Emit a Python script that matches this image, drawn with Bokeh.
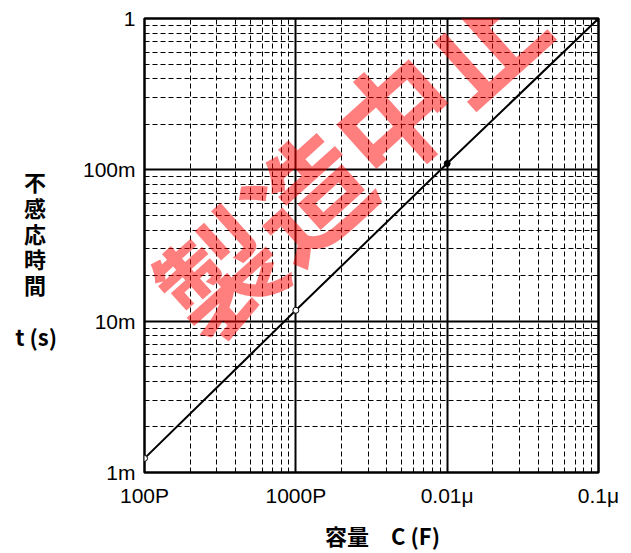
from bokeh.plotting import figure
from bokeh.models import Range1d, FixedTicker, CustomJSTickFormatter, Label
from bokeh.embed import file_html
from bokeh.resources import INLINE

# data
capacitance = [1e-10, 1e-9, 1e-8, 1e-7]
response_time = [1.24e-3, 1.18e-2, 1.10e-1, 1.0]
marker_fill = ["white", "white", "black", "black"]
x_ticks = [1e-10, 1e-9, 1e-8, 1e-7]
x_labels = ["100P", "1000P", "0.01\u03bc", "0.1\u03bc"]
y_ticks = [1e-3, 1e-2, 1e-1, 1.0]
y_labels = ["1m", "10m", "100m", "1"]
minor_mult = [2, 3, 4, 5, 6, 7, 8, 9]
x_title = "容量　C (F)"
y_title_chars = ["不", "感", "応", "時", "間"]
y_title_unit = "t (s)"
watermark = "製造中止"

W, H = 623, 553
FL, FT, FW, FH = 144, 18, 454, 454
p = figure(width=W, height=H, x_axis_type="log", y_axis_type="log",
           x_range=Range1d(1e-10, 1e-7), y_range=Range1d(1e-3, 1.0),
           output_backend="svg", toolbar_location=None,
           min_border_left=FL, min_border_right=W - FL - FW, min_border_top=FT,
           min_border_bottom=H - FT - FH)

xminor = [m * d for d in x_ticks[:-1] for m in minor_mult]
yminor = [m * d for d in y_ticks[:-1] for m in minor_mult]
xt = FixedTicker(ticks=x_ticks, minor_ticks=xminor)
yt = FixedTicker(ticks=y_ticks, minor_ticks=yminor)
p.xaxis.ticker = xt
p.yaxis.ticker = yt
p.xgrid.ticker = xt
p.ygrid.ticker = yt

fmt_code = """
let best = 0, bd = 1e9;
for (let i = 0; i < t.length; i++) { const d = Math.abs(Math.log10(tick) - Math.log10(t[i])); if (d < bd) { bd = d; best = i; } }
return l[best];
"""
p.xaxis.formatter = CustomJSTickFormatter(args=dict(t=x_ticks, l=x_labels), code=fmt_code)
p.yaxis.formatter = CustomJSTickFormatter(args=dict(t=y_ticks, l=y_labels), code=fmt_code)

for ax in (p.xaxis, p.yaxis):
    ax.axis_line_color = None
    ax.major_tick_line_color = None
    ax.minor_tick_line_color = None
    ax.major_label_text_font = "Liberation Sans"
    ax.major_label_text_font_size = "21px"
    ax.major_label_text_line_height = 1.0
    ax.major_label_text_color = "black"
    ax.axis_label_text_font = "Noto Sans CJK JP"
    ax.axis_label_text_font_style = "bold"
    ax.axis_label_text_font_size = "22px"
    ax.axis_label_text_color = "black"
p.xaxis.major_label_standoff = 5
p.yaxis.major_label_standoff = 3

p.xaxis.axis_label = "\u3000" + x_title
p.xaxis.axis_label_standoff = 9
p.xaxis.axis_label_text_line_height = 0.8
p.yaxis.axis_label = "\n".join(["\u3000"] + [c + "\u2002" for c in y_title_chars] + ["\u3000", y_title_unit])
p.yaxis.axis_label_orientation = "horizontal"
p.yaxis.axis_label_standoff = 23
p.yaxis.axis_label_text_line_height = 0.81

for g in (p.xgrid, p.ygrid):
    g.grid_line_color = "black"
    g.grid_line_width = 2
    g.grid_line_alpha = 1
    g.minor_grid_line_color = "black"
    g.minor_grid_line_width = 1
    g.minor_grid_line_dash = "5 3"

p.outline_line_color = "black"
p.outline_line_width = 2.5
p.background_fill_color = "white"

p.line(capacitance, response_time, line_color="black", line_width=2)
p.scatter(capacitance, response_time, size=6, line_color="black", fill_color=marker_fill, line_width=1)

# watermark
p.add_layout(Label(x=2.2e-9, y=0.13, text=watermark, angle=42, angle_units="deg",
                   text_color="red", text_alpha=0.5, text_font="Noto Sans CJK JP",
                   text_font_style="bold", text_font_size="118px",
                   text_align="center", text_baseline="middle", level="overlay"))

open("out.html", "w").write(file_html(p, INLINE))
